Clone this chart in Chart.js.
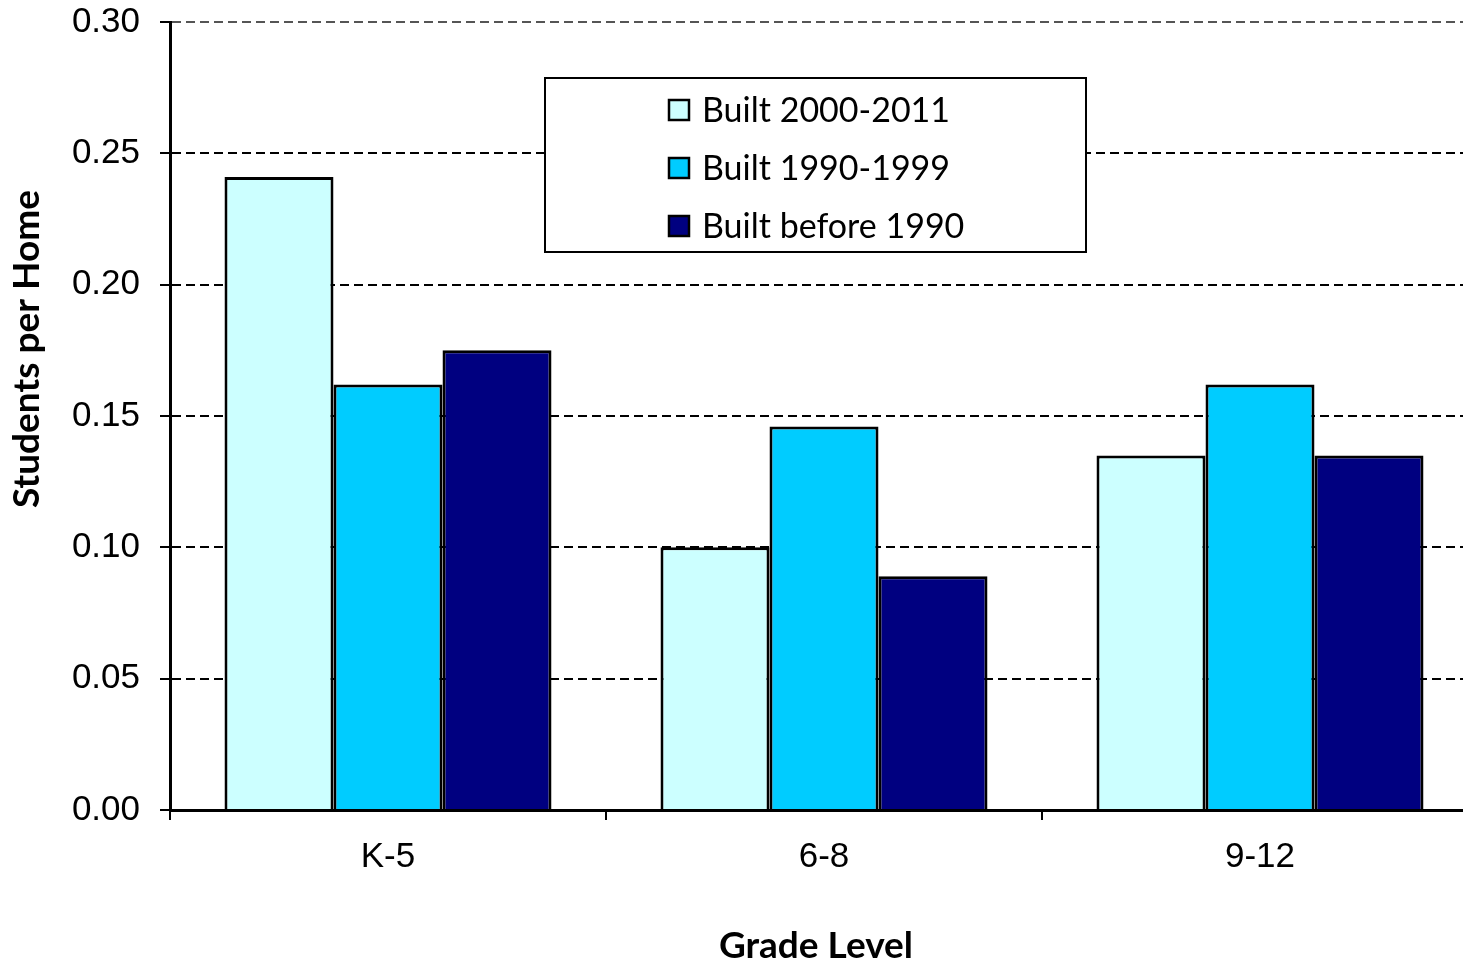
<!DOCTYPE html>
<html>
<head>
<meta charset="utf-8">
<script src="https://cdn.jsdelivr.net/npm/chart.js@4.4.0/dist/chart.umd.min.js"></script>
<style>
  html, body { margin: 0; padding: 0; background: #fff; overflow: hidden; }
  #wrap { width: 1480px; height: 968px; }
</style>
</head>
<body>
<div id="wrap"><canvas id="chart" width="1480" height="968"></canvas></div>
<script>
// Data
const categories = ['K-5', '6-8', '9-12'];
const seriesNames = ['Built 2000-2011', 'Built 1990-1999', 'Built before 1990'];
const built2000to2011 = [0.241, 0.100, 0.135];
const built1990to1999 = [0.162, 0.146, 0.162];
const builtBefore1990 = [0.175, 0.089, 0.135];
const yTicks = [0, 0.05, 0.10, 0.15, 0.20, 0.25, 0.30];
const seriesColors = ['#CCFFFF', '#00CCFF', '#000080'];

const tickFont = { family: "'Liberation Sans', Arial, sans-serif", size: 35 };
const titleFamily = "Lato, 'Open Sans', sans-serif";

// Boxed legend inside the plot, drawn over the grid lines
const boxedLegend = {
  id: 'boxedLegend',
  afterDatasetsDraw(chart) {
    const ctx = chart.ctx;
    const box = { x: 545, y: 78, w: 541, h: 174 };
    ctx.save();
    ctx.fillStyle = '#fff';
    ctx.fillRect(box.x, box.y, box.w, box.h);
    ctx.lineWidth = 2;
    ctx.strokeStyle = '#000';
    ctx.strokeRect(box.x, box.y, box.w, box.h);
    ctx.font = '34px ' + titleFamily;
    ctx.textBaseline = 'middle';
    chart.data.datasets.forEach((ds, i) => {
      const cy = 110 + i * 58;
      ctx.fillStyle = ds.backgroundColor;
      ctx.fillRect(669, cy - 10, 20, 20);
      ctx.lineWidth = 2.5;
      ctx.strokeStyle = '#000';
      ctx.strokeRect(669, cy - 10, 20, 20);
      ctx.fillStyle = '#000';
      ctx.fillText(ds.label, 702, cy + 1);
    });
    ctx.restore();
  }
};

// Axis titles
const axisTitles = {
  id: 'axisTitles',
  afterDraw(chart) {
    const ctx = chart.ctx;
    ctx.save();
    ctx.fillStyle = '#000';
    ctx.font = 'bold 37px ' + titleFamily;
    ctx.textAlign = 'center';
    ctx.textBaseline = 'middle';
    ctx.fillText('Grade Level', 816, 946);
    ctx.translate(27, 349);
    ctx.rotate(-Math.PI / 2);
    ctx.fillText('Students per Home', 0, 0);
    ctx.restore();
  }
};

const ctx = document.getElementById('chart').getContext('2d');
new Chart(ctx, {
  type: 'bar',
  data: {
    labels: categories,
    datasets: [built2000to2011, built1990to1999, builtBefore1990].map((values, i) => ({
      label: seriesNames[i],
      data: values,
      backgroundColor: seriesColors[i],
      borderColor: '#000',
      borderWidth: 3,
      categoryPercentage: 0.75,
      barPercentage: 1.0
    }))
  },
  options: {
    responsive: false,
    animation: false,
    devicePixelRatio: 1,
    layout: { padding: { top: 22, right: 2, left: 0, bottom: 0 } },
    plugins: {
      legend: { display: false },
      tooltip: { enabled: false }
    },
    scales: {
      x: {
        afterFit: s => { s.height = 158; },
        grid: { drawOnChartArea: false, offset: true, tickLength: 10, color: '#000', lineWidth: 2 },
        border: { color: '#000', width: 3 },
        ticks: { color: '#000', font: tickFont, padding: 16 }
      },
      y: {
        min: 0,
        max: 0.3,
        afterFit: s => { s.width = 170; s.paddingTop = 0; s.paddingBottom = 0; },
        afterBuildTicks: s => { s.ticks = yTicks.map(v => ({ value: v })); },
        grid: {
          color: ctx => (ctx.tick && ctx.tick.value === 0.3 ? '#555' : '#000'),
          lineWidth: 2, tickLength: 10, tickBorderDash: [], tickColor: '#000'
        },
        border: { color: '#000', width: 3, dash: [9, 5] },
        ticks: { color: '#000', font: tickFont, padding: 20, callback: v => v.toFixed(2) }
      }
    }
  },
  plugins: [boxedLegend, axisTitles]
});
</script>
</body>
</html>
